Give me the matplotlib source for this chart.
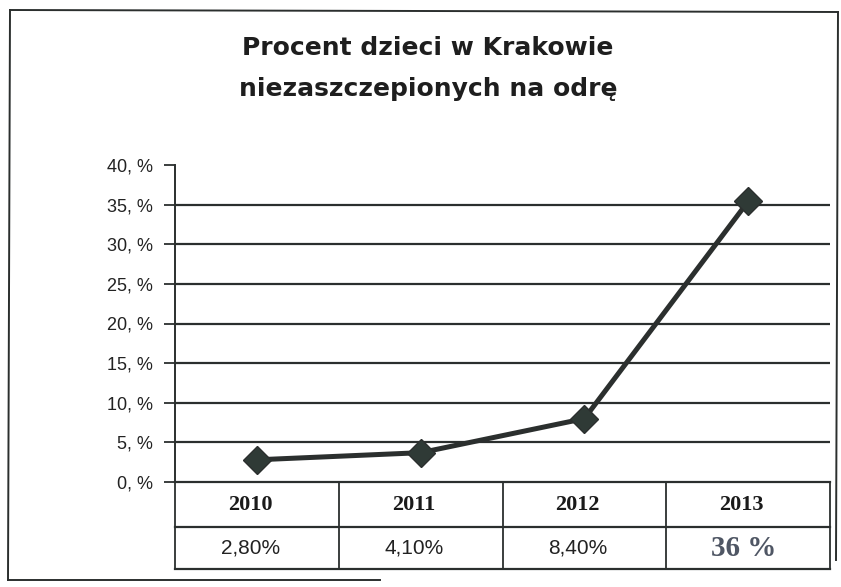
import matplotlib

matplotlib.use("Agg")
import matplotlib.pyplot as plt
from matplotlib.lines import Line2D
from matplotlib.transforms import blended_transform_factory

years = ["2010", "2011", "2012", "2013"]
plotted = [2.8, 3.7, 8.0, 35.4]
table_values = ["2,80%", "4,10%", "8,40%", "36 %"]
y_ticks = [0, 5, 10, 15, 20, 25, 30, 35, 40]
y_labels = [f"{v}, %" for v in y_ticks]
title_lines = ["Procent dzieci w Krakowie", "niezaszczepionych na odrę"]

W, H = 841, 587
ink = "#2b2f2e"

fig = plt.figure(figsize=(W / 100, H / 100), dpi=100)
fig.patch.set_facecolor("white")


def fx(px):
    return px / W


def fy(py):
    return 1 - py / H


# outer frame
for xs, ys in [
    ((10, 838), (10, 12)),
    ((10, 8), (10, 580)),
    ((8, 380), (580, 580)),
    ((838, 836), (12, 560)),
]:
    fig.add_artist(Line2D([fx(x) for x in xs], [fy(y) for y in ys],
                          color=ink, linewidth=1.4))

for line, py in zip(title_lines, [48, 89]):
    fig.text(fx(428), fy(py), line, ha="center", va="center",
             fontsize=18, fontweight="bold", family="DejaVu Sans",
             color="#1e1e1e")

left, right, top, bottom = 175, 830, 165, 482
ax = fig.add_axes([fx(left), fy(bottom), (right - left) / W, (bottom - top) / H])
x = list(range(len(years)))
ax.set_xlim(-0.5, len(years) - 0.5)
ax.set_ylim(0, 40)

for v in y_ticks[1:-1]:
    ax.axhline(v, color=ink, linewidth=1.6, zorder=1)

ax.plot(x, plotted, color=ink, linewidth=3.6, marker="D", markersize=14,
        markerfacecolor="#2f3a36", markeredgecolor=ink, zorder=3)

ax.set_yticks(y_ticks)
ax.set_yticklabels(y_labels, fontsize=13, family="Liberation Sans", color="#222222")
ax.tick_params(axis="y", length=8, width=1.3, color=ink, pad=8)
ax.set_xticks([])
for side in ["top", "right", "bottom"]:
    ax.spines[side].set_visible(False)
ax.spines["left"].set_color(ink)
ax.spines["left"].set_linewidth(1.4)

# data table under the axis
trans = blended_transform_factory(ax.transData, ax.transAxes)
row_mid = -(527 - bottom) / (bottom - top)
row_low = -(569 - bottom) / (bottom - top)
for yv in [0, row_mid, row_low]:
    ax.add_line(Line2D([-0.5, len(years) - 0.5], [yv, yv], transform=trans,
                       color=ink, linewidth=1.6, clip_on=False))
for xv in [i - 0.5 for i in range(len(years) + 1)]:
    ax.add_line(Line2D([xv, xv], [0, row_low], transform=trans,
                       color=ink, linewidth=1.3, clip_on=False))

for i, (yr, val) in enumerate(zip(years, table_values)):
    ax.text(i - 0.04, row_mid / 2, yr, transform=trans, ha="center", va="center",
            fontsize=16, fontweight="bold", family="Liberation Serif", color="#1a1a1a")
    if i == len(years) - 1:
        ax.text(i - 0.03, (row_mid + row_low) / 2, val, transform=trans, ha="center",
                va="center", fontsize=21, fontweight="bold",
                family="Liberation Serif", color="#4f5664")
    else:
        ax.text(i - 0.04, (row_mid + row_low) / 2, val, transform=trans, ha="center",
                va="center", fontsize=15, family="Liberation Sans", color="#222222")

fig.savefig("out.png", dpi=100)
